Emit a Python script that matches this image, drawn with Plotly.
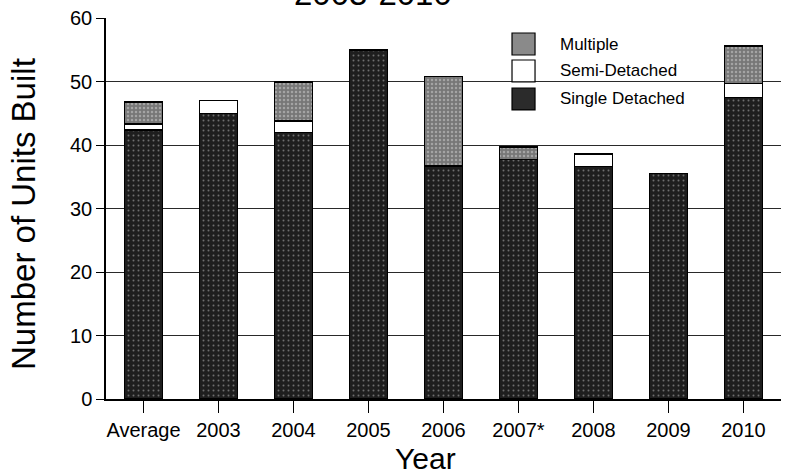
import plotly.graph_objects as go

categories = ["Average", "2003", "2004", "2005", "2006", "2007*", "2008", "2009", "2010"]
single_detached = [42.4, 45.0, 42.0, 55.0, 36.7, 37.7, 36.6, 35.5, 47.5]
semi_detached = [0.9, 2.0, 1.8, 0, 0, 0, 2.0, 0, 2.2]
multiple = [3.5, 0, 6.1, 0, 14.1, 2.0, 0, 0, 5.9]
y_ticks = [0, 10, 20, 30, 40, 50, 60]

FONT = "Liberation Sans, Arial, sans-serif"


def nz(vals):
    return [v if v else None for v in vals]


fig = go.Figure()
fig.add_trace(go.Bar(
    x=categories, y=nz(single_detached), name="Single Detached", width=0.51,
    marker=dict(color="#1e1e1e", line=dict(color="black", width=1.5),
                pattern=dict(shape=".", fgcolor="#bdbdbd", size=5, solidity=0.12)),
    showlegend=False,
))
fig.add_trace(go.Bar(
    x=categories, y=nz(semi_detached), name="Semi-Detached", width=0.51,
    marker=dict(color="white", line=dict(color="black", width=1.5)),
    showlegend=False,
))
fig.add_trace(go.Bar(
    x=categories, y=nz(multiple), name="Multiple", width=0.51,
    marker=dict(color="#777777", line=dict(color="black", width=1.5),
                pattern=dict(shape=".", fgcolor="#d0d0d0", size=4, solidity=0.3)),
    showlegend=False,
))

# manual legend (boxes + labels), Multiple on top
legend_items = [("Multiple", "#8a8a8a"), ("Semi-Detached", "white"), ("Single Detached", "#2b2b2b")]
box_top = [0.9606, 0.8898, 0.8163]
box_h = 0.0577
for (label, col), top in zip(legend_items, box_top):
    fig.add_shape(type="rect", xref="paper", yref="paper",
                  x0=0.6015, x1=0.6356, y0=top - box_h, y1=top,
                  fillcolor=col, line=dict(color="black", width=1.2))
    fig.add_annotation(xref="paper", yref="paper", x=0.6696, y=top - box_h / 2,
                       xanchor="left", yanchor="middle", showarrow=False,
                       text=label, font=dict(family=FONT, size=17, color="black"))

# titles
fig.add_annotation(xref="paper", yref="paper", x=0.3956, y=1.0656,
                   xanchor="center", yanchor="middle", showarrow=False,
                   text="2003-2010", font=dict(family=FONT, size=33, color="black"))
fig.add_annotation(xref="paper", yref="paper", x=0.474, y=-0.157,
                   xanchor="center", yanchor="middle", showarrow=False,
                   text="Year", font=dict(family=FONT, size=30, color="black"))
fig.add_annotation(xref="paper", yref="paper", x=-0.1215, y=0.4856,
                   xanchor="center", yanchor="middle", showarrow=False, textangle=-90,
                   text="Number of Units Built", font=dict(family=FONT, size=33, color="black"))

fig.update_layout(
    barmode="stack",
    width=786, height=476,
    margin=dict(l=106, r=5, t=18, b=77),
    paper_bgcolor="white", plot_bgcolor="white",
    font=dict(family=FONT, color="black"),
    xaxis=dict(type="category", range=[-0.5, 8.5], ticks="outside", ticklen=12,
               tickwidth=1.2, tickcolor="black", showline=True, linecolor="black",
               linewidth=1.5, showgrid=False, tickfont=dict(size=20, color="black")),
    yaxis=dict(range=[0, 60], tickvals=y_ticks, ticks="outside", ticklen=8,
               tickwidth=1.2, tickcolor="black", showline=True, linecolor="black",
               linewidth=1.5, showgrid=True, gridcolor="#2a2a2a", gridwidth=1,
               zeroline=False, tickfont=dict(size=20, color="black")),
)

fig.write_html("out.html", config={"displayModeBar": False},
               post_script="document.body.style.margin='0';")
